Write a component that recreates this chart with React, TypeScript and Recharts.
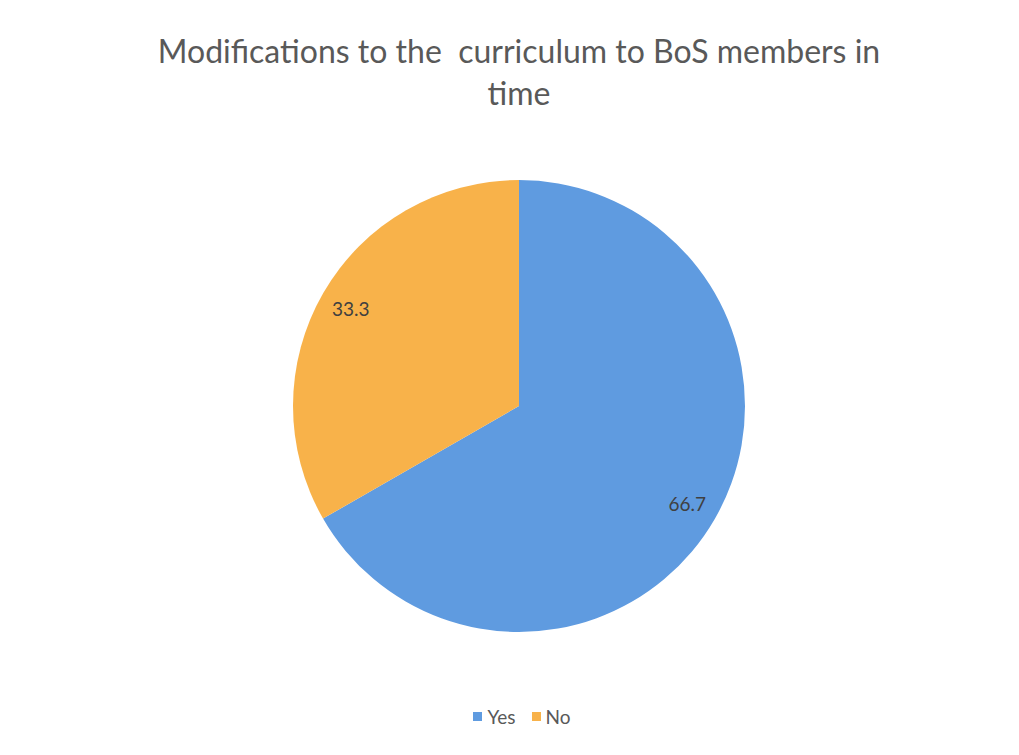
import { Cell, Legend, Pie, PieChart } from "recharts";

const categories = ["Yes", "No"];
const shares = [66.7, 33.3];
const colors = ["#5F9BE0", "#F8B24A"];

const data = categories.map((name, i) => ({ name, value: shares[i] }));

const RADIAN = Math.PI / 180;

const renderLabel = (props: any) => {
  const { cx, cy, midAngle, outerRadius, value } = props;
  const r = outerRadius * 0.86;
  const x = cx + r * Math.cos(-midAngle * RADIAN);
  const y = cy + r * Math.sin(-midAngle * RADIAN);
  return (
    <text x={x} y={y} fill="#404040" fontSize={19} textAnchor="middle" dominantBaseline="central">
      {value}
    </text>
  );
};

const renderLegend = () => (
  <div style={{ display: "flex", justifyContent: "center", gap: 16, fontSize: 19, color: "#595959" }}>
    {categories.map((name, i) => (
      <span key={name} style={{ display: "flex", alignItems: "center" }}>
        <span style={{ width: 9, height: 9, background: colors[i], marginRight: 5, display: "inline-block" }} />
        {name}
      </span>
    ))}
  </div>
);

export default function App() {
  return (
    <div style={{ position: "absolute", left: 0, top: 0, width: 1019, height: 755, background: "#fff", fontFamily: "Lato, sans-serif" }}>
      <div
        style={{
          position: "absolute",
          top: 30,
          left: 0,
          width: 1038,
          textAlign: "center",
          color: "#595959",
          fontSize: 32,
          lineHeight: "42px",
          whiteSpace: "pre",
        }}
      >
        {"Modifications to the  curriculum to BoS members in\ntime"}
      </div>
      <PieChart width={1019} height={755} margin={{ top: 0, right: 0, bottom: 0, left: 0 }}>
        <Pie
          data={data}
          dataKey="value"
          nameKey="name"
          cx={519}
          cy={406}
          outerRadius={226}
          startAngle={90}
          endAngle={-270}
          stroke="none"
          label={renderLabel}
          labelLine={false}
          isAnimationActive={false}
        >
          {data.map((d, i) => (
            <Cell key={d.name} fill={colors[i]} />
          ))}
        </Pie>
        <Legend
          verticalAlign="bottom"
          align="center"
          content={renderLegend}
          wrapperStyle={{ top: 705, bottom: "auto", left: 0, width: 1044 }}
        />
      </PieChart>
    </div>
  );
}
